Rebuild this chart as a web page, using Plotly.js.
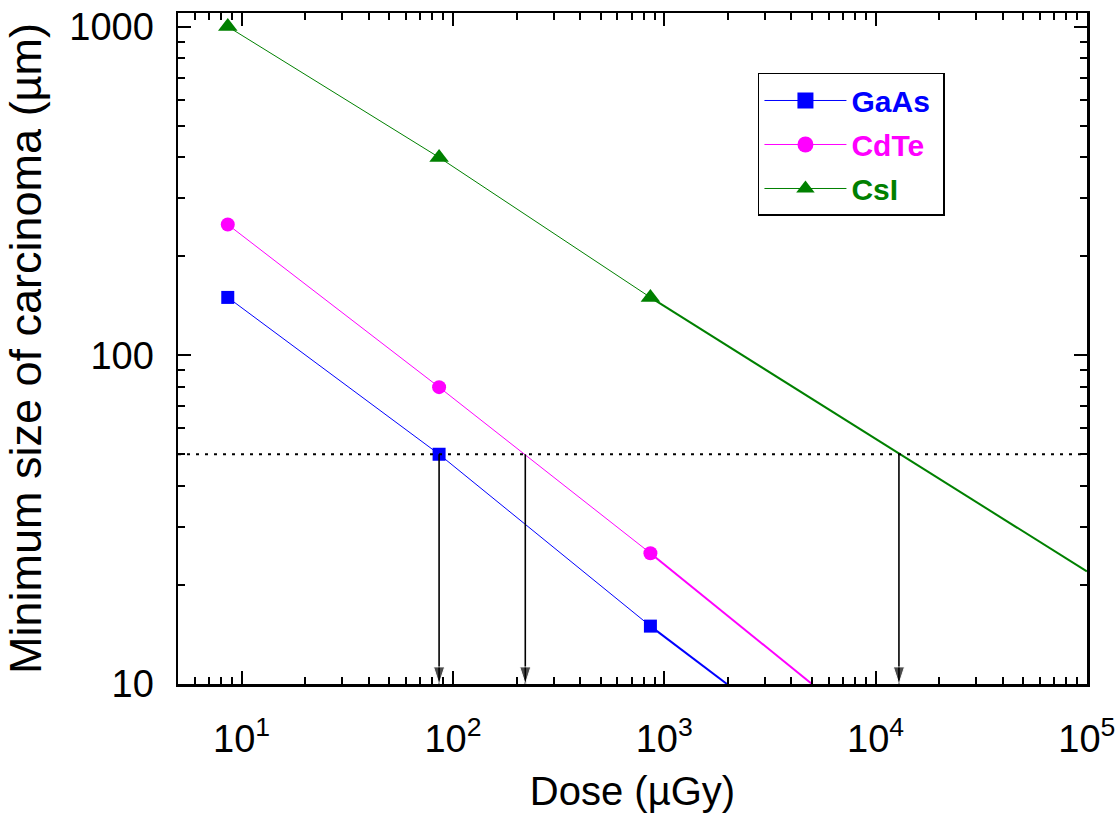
<!DOCTYPE html>
<html><head><meta charset="utf-8">
<script src="https://cdn.plot.ly/plotly-3.0.1.min.js"></script>
<style>html,body{margin:0;padding:0;background:#fff}</style>
</head><body><div id="chart" style="width:1115px;height:816px"></div>
<script>
// measured points
const dose = [8.6, 86, 860];
const gaasSize = [150, 50, 15];
const cdteSize = [250, 80, 25];
const csiSize = [1000, 400, 150];
// extrapolated segments beyond the last measured point
const gaasFitDose = [860, 1980];
const gaasFitSize = [15, 10];
const cdteFitDose = [860, 5000];
const cdteFitSize = [25, 10];
const csiFitDose = [860, 100000];
const csiFitSize = [150, 22];
// 50 µm threshold and the doses where each line crosses it
const thresholdSize = 50;
const thresholdDoseRange = [5, 100000];
const thresholdDoses = [86, 220, 12900];
// axes
const xRange = [5, 100000];
const yRange = [10, 1100];
const xTickVals = [10, 100, 1000, 10000, 100000];
const xTickText = ['10<sup>1</sup>', '10<sup>2</sup>', '10<sup>3</sup>', '10<sup>4</sup>', '10<sup>5</sup>'];
const yTickVals = [10, 100, 1000];
const yTickText = ['10', '100', '1000'];
const seriesNames = ['GaAs', 'CdTe', 'CsI'];
const seriesLabels = ['GaAs', 'CdTe', 'CsI'];

const colors = ['#0000ff', '#ff00ff', '#008000'];
const symbols = ['square', 'circle', 'triangle-up'];
const sizes = [13, 14, 17];
const legendSizes = [17, 18, 21];
const measured = [gaasSize, cdteSize, csiSize];
const fitX = [gaasFitDose, cdteFitDose, csiFitDose];
const fitY = [gaasFitSize, cdteFitSize, csiFitSize];

const traces = [];
for (let i = 0; i < 3; i++) {
  traces.push({
    x: dose, y: measured[i], type: 'scatter', mode: 'lines+markers',
    name: seriesNames[i], showlegend: false,
    line: {color: colors[i], width: 1},
    marker: {color: colors[i], symbol: symbols[i], size: sizes[i]},
    cliponaxis: false
  });
}
for (let i = 0; i < 3; i++) {
  traces.push({
    x: fitX[i], y: fitY[i], type: 'scatter', mode: 'lines',
    showlegend: false, hoverinfo: 'skip',
    line: {color: colors[i], width: 2}
  });
}
// legend entries (larger symbols, as in the reference legend)
for (let i = 0; i < 3; i++) {
  traces.push({
    x: [null], y: [null], type: 'scatter', mode: 'lines+markers',
    name: '<b><span style="color:' + colors[i] + '">' + seriesLabels[i] + '</span></b>&nbsp;',
    legendgroup: seriesNames[i],
    line: {color: colors[i], width: 1},
    marker: {color: colors[i], symbol: symbols[i], size: legendSizes[i]}
  });
}
traces.push({
  x: thresholdDoseRange, y: [thresholdSize, thresholdSize], type: 'scatter', mode: 'lines',
  showlegend: false, hoverinfo: 'skip',
  line: {color: '#000', width: 2, dash: '3px,6px'}
});
thresholdDoses.forEach(d => {
  traces.push({
    x: [d, d], y: [thresholdSize, yRange[0]], type: 'scatter', mode: 'lines+markers',
    showlegend: false, hoverinfo: 'skip', cliponaxis: false,
    line: {color: '#000', width: 1.6},
    marker: {symbol: 'arrow', angle: 180, size: [0, 18], color: '#000'}
  });
});

const font = 'Liberation Sans, Arial, sans-serif';
const axisCommon = {
  type: 'log', showline: true, linecolor: '#000', linewidth: 2.5, mirror: 'allticks',
  ticks: 'inside', ticklen: 13, tickwidth: 2, tickcolor: '#000',
  showgrid: false, zeroline: false, tickmode: 'array', ticklabeloverflow: 'allow',
  tickfont: {family: font, size: 38, color: '#000'},
  minor: {ticks: 'inside', ticklen: 7, tickwidth: 2, tickcolor: '#000', dtick: 'D1', showgrid: false}
};

const layout = {
  width: 1115, height: 816,
  margin: {l: 178, r: 28, t: 13, b: 132},
  paper_bgcolor: '#fff', plot_bgcolor: '#fff',
  font: {family: font, color: '#000'},
  showlegend: true,
  xaxis: Object.assign({}, axisCommon, {
    range: [Math.log10(xRange[0]), Math.log10(xRange[1]) + 0.0005],
    tickvals: xTickVals, ticktext: xTickText,
    ticklabelstandoff: 20,
    title: {text: 'Dose (µGy)', font: {family: font, size: 40, color: '#000'}, standoff: 18}
  }),
  yaxis: Object.assign({}, axisCommon, {
    range: [Math.log10(yRange[0]), Math.log10(yRange[1])],
    tickvals: yTickVals, ticktext: yTickText,
    ticklabelstandoff: 14,
    title: {text: 'Minimum size of carcinoma (µm)', font: {family: font, size: 45, color: '#000'}, standoff: 15}
  }),
  legend: {
    x: 0.638, y: 0.9106, xanchor: 'left', yanchor: 'top',
    bgcolor: '#fff', bordercolor: '#000', borderwidth: 1.5,
    font: {family: font, size: 30},
    itemwidth: 82, traceorder: 'grouped', tracegroupgap: 2
  }
};

Plotly.newPlot('chart', traces, layout, {displayModeBar: false, staticPlot: true});
</script>
</body></html>
